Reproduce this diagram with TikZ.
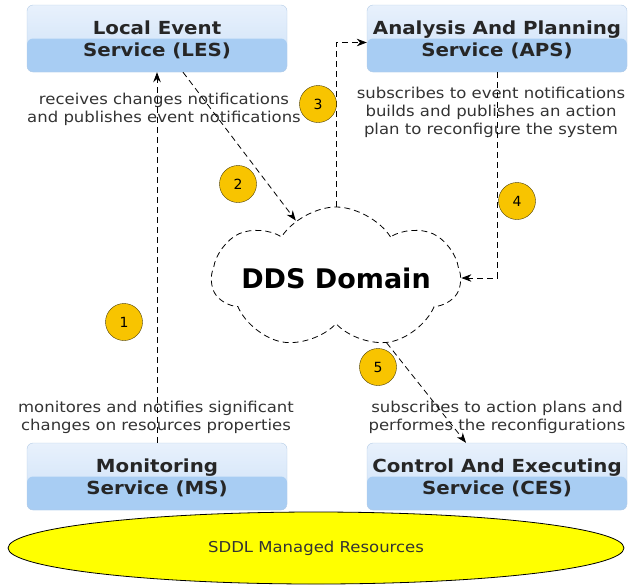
\documentclass[tikz,border=0pt]{standalone}
\usepackage{fontspec}
\setmainfont{DejaVu Sans}
\newfontfamily\widefont[FakeStretch=1.1]{DejaVu Sans}
\usetikzlibrary{shapes.geometric, shapes.symbols, arrows.meta, positioning}

\definecolor{boxtop}{HTML}{E8F1FC}
\definecolor{boxmid}{HTML}{CBE0F7}
\definecolor{boxlow}{HTML}{A8CDF3}
\definecolor{boxline}{HTML}{B4CCE6}
\definecolor{stepfill}{HTML}{F8C400}
\definecolor{stepline}{HTML}{4A3C00}
\definecolor{resfill}{HTML}{FFFF00}

\tikzset{
  service/.style={draw=boxline, rounded corners=6pt, minimum width=260pt, minimum height=67pt,
    top color=boxtop, bottom color=boxmid, align=center, text depth=0pt, text=black!85,
    font=\widefont\fontsize{18}{22}\selectfont\bfseries,
    path picture={\fill[boxlow] (path picture bounding box.west) rectangle (path picture bounding box.south east);}},
  note/.style={align=center, font=\widefont\fontsize{15}{18}\selectfont, text=black!80},
  stepnum/.style={circle, draw=stepline, fill=stepfill, minimum size=37pt, inner sep=0pt,
    font=\fontsize{14}{14}\selectfont},
  flow/.style={line width=0.8pt, dash pattern=on 6pt off 4pt, -{Stealth[length=10pt,width=7.5pt]}},
}

\begin{document}
\begin{tikzpicture}[x=1pt, y=1pt]
  \useasboundingbox (0,0) rectangle (628,-584);

  % resources
  \node[ellipse, draw, line width=0.8pt, fill=resfill, minimum width=616pt, minimum height=72pt,
        font=\widefont\fontsize{15}{15}\selectfont, text=black!80] (sddl) at (316,-548) {SDDL Managed Resources};

  % services
  \node[service] (les) at (157,-38.5) {Local Event\\Service (LES)};
  \node[service] (aps) at (497,-38.5) {Analysis And Planning\\Service (APS)};
  \node[service] (ms)  at (157,-476.5) {Monitoring\\Service (MS)};
  \node[service] (ces) at (497,-476.5) {Control And Executing\\Service (CES)};

  % domain
  \node[cloud, draw, line width=0.8pt, dash pattern=on 6pt off 4pt, cloud puffs=7, cloud puff arc=115,
        aspect=1.7, minimum width=248pt, minimum height=142pt] (dds) at (336,-278) {};
  \node[font=\fontsize{27}{27}\selectfont\bfseries] (ddslabel) at (dds.center) {DDS Domain};

  % notes
  \node[note] (lesnote) at (164,-109) {receives changes notifications\\and publishes event notifications};
  \node[note] (apsnote) at (491,-112) {subscribes to event notifications\\builds and publishes an action\\plan to reconfigure the system};
  \node[note] (msnote)  at (156,-417) {monitores and notifies significant\\changes on resources properties};
  \node[note] (cesnote) at (497,-417) {subscribes to action plans and\\performes the reconfigurations};

  % flows
  \draw[flow] (ms.north) -- (les.south);
  \draw[flow] ([xshift=26pt]les.south) -- (dds.125);
  \draw[flow] (dds.north) |- ([yshift=-4pt]aps.west);
  \draw[flow] (aps.south) |- (dds.east);
  \draw[flow] (dds.-52) -- ([xshift=-31pt]ces.north);

  % steps
  \node[stepnum] (s1) at (124,-322) {1};
  \node[stepnum] (s2) at (238,-184) {2};
  \node[stepnum] (s3) at (318,-104) {3};
  \node[stepnum] (s4) at (517,-201) {4};
  \node[stepnum] (s5) at (378,-367) {5};
\end{tikzpicture}
\end{document}
